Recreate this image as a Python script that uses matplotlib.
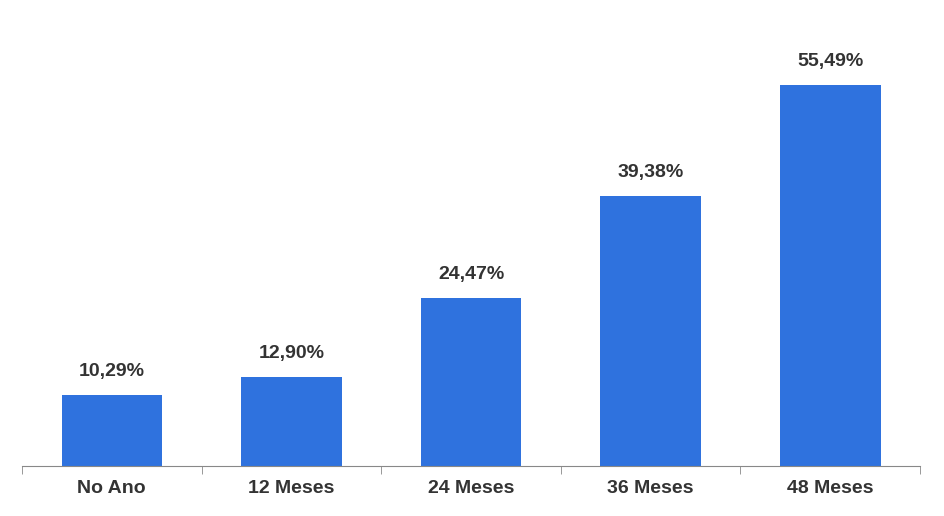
import matplotlib

matplotlib.use("Agg")
import matplotlib.pyplot as plt
import numpy as np

categories = ["No Ano", "12 Meses", "24 Meses", "36 Meses", "48 Meses"]
values = [10.29, 12.90, 24.47, 39.38, 55.49]

BAR_COLOR = "#2F72DE"
TEXT_COLOR = "#333333"

plt.rcParams["font.family"] = ["Liberation Sans", "DejaVu Sans"]

fig = plt.figure(figsize=(9.44, 5.16), dpi=100)
ax = fig.add_axes([0.0233, 0.0969, 0.9513, 0.9031])

x = np.arange(len(categories))
ax.bar(x, values, width=0.56, color=BAR_COLOR)
for xi, v in zip(x, values):
    ax.text(xi, v + 2.2, f"{v:.2f}".replace(".", ",") + "%", ha="center",
            va="bottom", fontsize=14, fontweight="bold", color=TEXT_COLOR)

ax.set_xlim(-0.5, len(categories) - 0.5)
ax.set_ylim(0, 67.9)
ax.set_xticks(x)
ax.set_xticklabels(categories, fontsize=14, fontweight="bold", color=TEXT_COLOR)
ax.tick_params(axis="x", which="major", length=0, pad=10)
ax.set_xticks(np.arange(-0.5, len(categories)), minor=True)
ax.tick_params(axis="x", which="minor", length=6, color="#888888", direction="out")
ax.set_yticks([])
for side in ("top", "right", "left"):
    ax.spines[side].set_visible(False)
ax.spines["bottom"].set_color("#888888")

fig.savefig("out.png", dpi=100)
